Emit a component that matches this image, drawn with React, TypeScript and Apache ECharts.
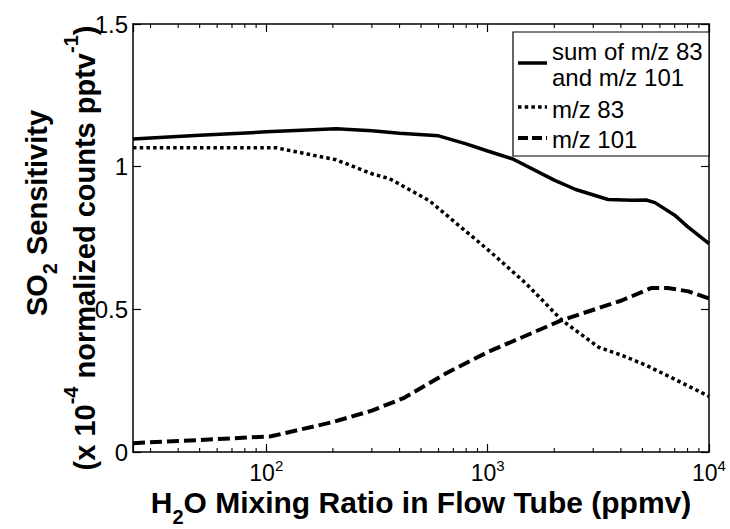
import React, { useEffect, useRef } from "react";
import * as echarts from "echarts";

// H2O mixing ratio (ppmv) and SO2 sensitivity values
const sumX = [25, 50, 100, 207, 300, 400, 600, 800, 1000, 1300, 2000, 2500, 3500, 4500, 5200, 5700, 7000, 8000, 10000];
const sumY = [1.097, 1.11, 1.122, 1.133, 1.126, 1.117, 1.108, 1.08, 1.055, 1.027, 0.953, 0.92, 0.885, 0.882, 0.883, 0.874, 0.83, 0.79, 0.73];

const mz83X = [25, 111, 207, 300, 360, 545, 700, 1014, 1489, 2163, 3175, 4000, 5164, 7000, 10000];
const mz83Y = [1.066, 1.066, 1.024, 0.975, 0.958, 0.881, 0.81, 0.706, 0.591, 0.462, 0.367, 0.34, 0.305, 0.255, 0.195];

const mz101X = [25, 60, 105, 200, 300, 420, 650, 1000, 2163, 4030, 5500, 6500, 8070, 10000];
const mz101Y = [0.031, 0.045, 0.055, 0.105, 0.145, 0.19, 0.276, 0.35, 0.462, 0.531, 0.575, 0.575, 0.563, 0.538];

const minorTickValues = [30, 40, 50, 60, 70, 80, 90, 200, 300, 400, 500, 600, 700, 800, 900, 2000, 3000, 4000, 5000, 6000, 7000, 8000, 9000];

const legendNames = ["sum of m/z 83", "and m/z 101", "m/z 83", "m/z 101"];
const xTitle = ["H", "2", "O Mixing Ratio in Flow Tube (ppmv)"];
const yTitle1 = ["SO", "2", " Sensitivity"];
const yTitle2 = ["(x 10", "-4", " normalized counts pptv", "-1", ")"];

const FONT = "'Liberation Sans', Arial, Helvetica, sans-serif";

const zip = (xs: number[], ys: number[]) => xs.map((x, i) => [x, ys[i]]);

export default function App() {
  const ref = useRef<HTMLDivElement>(null);
  useEffect(() => {
    if (!ref.current) return;
    const chart = echarts.init(ref.current, undefined, { renderer: "svg" });

    const logAxisBase = {
      type: "log" as const,
      logBase: 10,
      min: 25,
      max: 10000,
      splitLine: { show: false },
      axisLine: { show: true, onZero: false, lineStyle: { color: "#000", width: 1.5 } },
      axisTick: { show: true, inside: true, length: 8, lineStyle: { color: "#000", width: 1.2 } },
      minorTick: { show: false },
    };
    const valAxisBase = {
      type: "value" as const,
      min: 0,
      max: 1.5,
      interval: 0.5,
      splitLine: { show: false },
      axisLine: { show: true, onZero: false, lineStyle: { color: "#000", width: 1.5 } },
      axisTick: { show: true, inside: true, length: 8, lineStyle: { color: "#000", width: 1.2 } },
    };

    const option: any = {
      animation: false,
      backgroundColor: "#fff",
      grid: { left: 133, right: 21, top: 24, bottom: 77, containLabel: false, outerBoundsMode: "none" },
      xAxis: [
        {
          ...logAxisBase,
          position: "bottom",
          axisLabel: {
            show: true,
            margin: 6,
            color: "#000",
            fontFamily: FONT,
            formatter: (v: number) => {
              const e = Math.log10(v);
              const r = Math.round(e);
              if (Math.abs(e - r) < 1e-6) return `{b|10}{s|${r}}`;
              return "";
            },
            rich: {
              b: { fontSize: 23, fontFamily: FONT, color: "#000", lineHeight: 26, verticalAlign: "bottom" },
              s: { fontSize: 15, fontFamily: FONT, color: "#000", verticalAlign: "top" },
            },
          },
        },
        { ...logAxisBase, position: "top", axisLabel: { show: false } },
      ],
      yAxis: [
        {
          ...valAxisBase,
          position: "left",
          axisLabel: { show: true, margin: 5, color: "#000", fontSize: 24, fontFamily: FONT },
        },
        { ...valAxisBase, position: "right", axisLabel: { show: false } },
      ],
      series: [
        {
          name: "sum of m/z 83 and m/z 101",
          type: "line",
          data: zip(sumX, sumY),
          showSymbol: false,
          lineStyle: { color: "#000", width: 3.5, type: "solid" },
          z: 3,
        },
        {
          name: "m/z 83",
          type: "line",
          data: zip(mz83X, mz83Y),
          showSymbol: false,
          lineStyle: { color: "#000", width: 3.5, type: [3.5, 3.2], cap: "butt" },
          z: 3,
        },
        {
          name: "m/z 101",
          type: "line",
          data: zip(mz101X, mz101Y),
          showSymbol: false,
          lineStyle: { color: "#000", width: 4, type: [12, 5], cap: "butt" },
          z: 3,
        },
        {
          name: "minor ticks",
          type: "custom",
          silent: true,
          data: minorTickValues.map((v) => [v, 0]),
          renderItem: (params: any, api: any) => {
            const v = api.value(0);
            const b = api.coord([v, 0]);
            const t = api.coord([v, 1.5]);
            const st = { stroke: "#000", lineWidth: 1.1 };
            return {
              type: "group",
              children: [
                { type: "line", shape: { x1: b[0], y1: b[1], x2: b[0], y2: b[1] - 4 }, style: st },
                { type: "line", shape: { x1: t[0], y1: t[1], x2: t[0], y2: t[1] + 4 }, style: st },
              ],
            };
          },
          z: 2,
        },
      ],
      graphic: [
        // x axis title
        {
          type: "text",
          x: 421,
          y: 507,
          style: {
            text: `{b|${xTitle[0]}}{sub|${xTitle[1]}}{b|${xTitle[2]}}`,
            textAlign: "center",
            textVerticalAlign: "middle",
            rich: {
              b: { fontSize: 30, fontWeight: "bold", fontFamily: FONT, fill: "#000", lineHeight: 40, verticalAlign: "top" },
              sub: { fontSize: 20, fontWeight: "bold", fontFamily: FONT, fill: "#000", verticalAlign: "bottom" },
            },
          },
        },
        // y axis title line 1
        {
          type: "text",
          x: 41,
          y: 213,
          rotation: Math.PI / 2,
          style: {
            text: `{b|${yTitle1[0]}}{sub|${yTitle1[1]}}{b|${yTitle1[2]}}`,
            textAlign: "center",
            textVerticalAlign: "middle",
            rich: {
              b: { fontSize: 29, fontWeight: "bold", fontFamily: FONT, fill: "#000", lineHeight: 38, verticalAlign: "top" },
              sub: { fontSize: 20, fontWeight: "bold", fontFamily: FONT, fill: "#000", verticalAlign: "bottom" },
            },
          },
        },
        // y axis title line 2
        {
          type: "text",
          x: 80,
          y: 248,
          rotation: Math.PI / 2,
          style: {
            text: `{b|${yTitle2[0]}}{sup|${yTitle2[1]}}{b|${yTitle2[2]}}{sup|${yTitle2[3]}}{b|${yTitle2[4]}}`,
            textAlign: "center",
            textVerticalAlign: "middle",
            rich: {
              b: { fontSize: 29, fontWeight: "bold", fontFamily: FONT, fill: "#000", lineHeight: 38, verticalAlign: "bottom" },
              sup: { fontSize: 20, fontWeight: "bold", fontFamily: FONT, fill: "#000", verticalAlign: "top" },
            },
          },
        },
        // legend box
        {
          type: "rect",
          shape: { x: 513, y: 32, width: 196, height: 124 },
          style: { fill: "#fff", stroke: "#000", lineWidth: 1.2 },
          z: 10,
        },
        {
          type: "line",
          shape: { x1: 518, y1: 63, x2: 547, y2: 63 },
          style: { stroke: "#000", lineWidth: 3.5 },
          z: 11,
        },
        {
          type: "line",
          shape: { x1: 518, y1: 107, x2: 547, y2: 107 },
          style: { stroke: "#000", lineWidth: 3.5, lineDash: [3.5, 3.2] },
          z: 11,
        },
        {
          type: "line",
          shape: { x1: 518, y1: 138, x2: 547, y2: 138 },
          style: { stroke: "#000", lineWidth: 4, lineDash: [10, 4] },
          z: 11,
        },
        ...[51, 77, 109, 139].map((yy, i) => ({
          type: "text",
          x: 552,
          y: yy,
          z: 11,
          style: {
            text: legendNames[i],
            fontSize: 24,
            fontFamily: FONT,
            fill: "#000",
            textAlign: "left",
            textVerticalAlign: "middle",
          },
        })),
      ],
    };

    chart.setOption(option);
    return () => chart.dispose();
  }, []);

  return (
    <div
      ref={ref}
      style={{ position: "fixed", left: 0, top: 0, width: 730, height: 529, background: "#fff" }}
    />
  );
}
